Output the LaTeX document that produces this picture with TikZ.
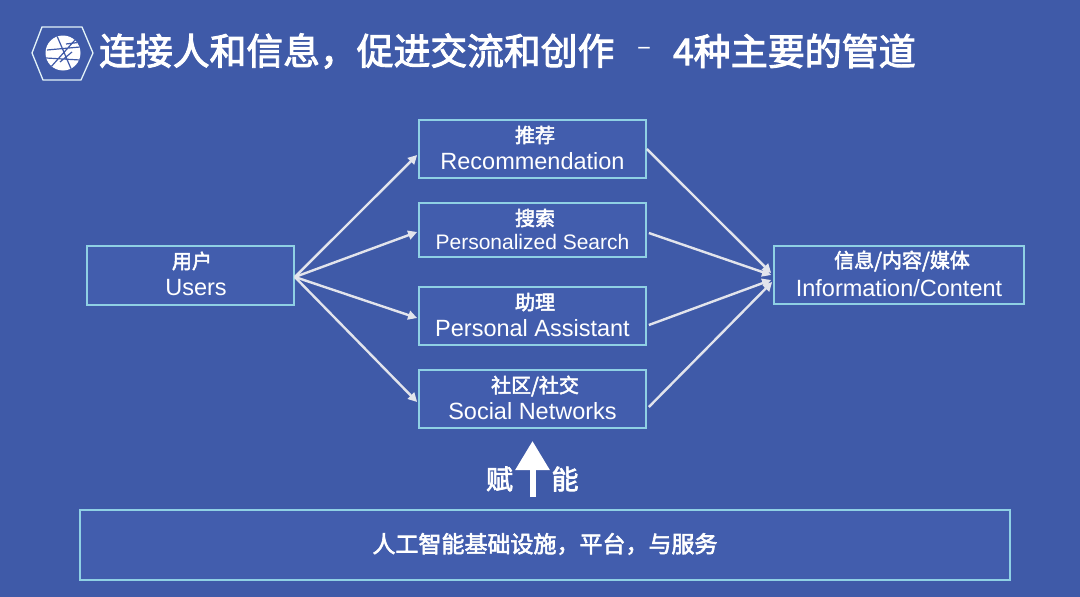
\documentclass[tikz,border=0pt]{standalone}
\usepackage{fontspec}
\setmainfont{Liberation Sans}
\newfontfamily\cjk{Noto Sans CJK SC}
\newfontfamily\cjkm{Noto Sans CJK SC}[FakeBold=2.6]
\usetikzlibrary{arrows.meta,calc}
\definecolor{bgblue}{HTML}{3F5AA8}
\definecolor{boxblue}{HTML}{425DAD}
\definecolor{edgeblue}{HTML}{8FD0E4}
\definecolor{linkgrey}{HTML}{E2E4EC}
\tikzset{
  x=1pt,y=-1pt,
  flowbox/.style={draw=edgeblue,fill=boxblue,line width=1.7pt,minimum width=#1,inner sep=0pt,text=white,anchor=center},
  link/.style={draw=linkgrey,line width=2.4pt,-{Triangle[length=9pt,width=9pt]},shorten >=0pt},
  lbl/.style={text=white,inner sep=0pt,anchor=center}
}
\newcommand{\zhl}[1]{{\fontsize{20}{22}\selectfont\cjkm #1}}
\newcommand{\enl}[1]{{\fontsize{23.5}{26}\selectfont #1}}
\newcommand{\fwc}{\char"FF0C\relax}
\begin{document}
\begin{tikzpicture}
\useasboundingbox (0,0) rectangle (1080,597);
\fill[bgblue] (0,0) rectangle (1080,597);
% logo
\draw[draw=white!75!edgeblue,line width=1.3pt,fill=bgblue] (32,53) -- (42,27) -- (82,27) -- (93,53) -- (81,80) -- (43,80) -- cycle;
\fill[white] (63,53) circle (17.5);
\begin{scope}
\clip (63,53) circle (17.5);
\draw[bgblue,line width=1.2pt] (47,50) -- (80,47) (57,36) -- (72,71) (75,40) -- (50,68) (46,58) -- (80,60) (66,44) -- (82,42) (60,62) -- (72,52);
\end{scope}
% title
\node[lbl,anchor=west] (title) at (99,51) {\fontsize{36.8}{40}\selectfont\cjkm 连接人和信息\fwc 促进交流和创作};
\node[lbl,anchor=west] (dash) at (637,51) {\fontsize{26}{30}\selectfont\cjk –};
\node[lbl,anchor=west] (title2) at (673,51) {\fontsize{37}{40}\selectfont\cjkm 4种主要的管道};
% boxes
\node[flowbox=207pt,minimum height=59pt] (users) at (190.5,275.5) {};
\node[flowbox=227pt,minimum height=58pt] (rec) at (532.5,149) {};
\node[flowbox=227pt,minimum height=54pt] (search) at (532.5,230) {};
\node[flowbox=227pt,minimum height=58pt] (assist) at (532.5,316) {};
\node[flowbox=227pt,minimum height=58pt] (social) at (532.5,399) {};
\node[flowbox=250pt,minimum height=58pt] (info) at (899,275) {};
\node[flowbox=930pt,minimum height=70pt] (base) at (545,545) {};
% box texts
\node[lbl] (t1a) at (192,261) {\zhl{用户}};
\node[lbl] (t1b) at (196,288) {\enl{Users}};
\node[lbl] (t2a) at (535,135) {\zhl{推荐}};
\node[lbl] (t2b) at (532.5,161) {\enl{Recommendation}};
\node[lbl] (t3a) at (535,218) {\zhl{搜索}};
\node[lbl] (t3b) at (532.5,242) {\fontsize{21}{23}\selectfont Personalized Search};
\node[lbl] (t4a) at (535,302) {\zhl{助理}};
\node[lbl] (t4b) at (532.5,328) {\enl{Personal Assistant}};
\node[lbl] (t5a) at (535,386) {\zhl{社区/社交}};
\node[lbl] (t5b) at (532.5,411) {\enl{Social Networks}};
\node[lbl] (t6a) at (902,261) {\zhl{信息/内容/媒体}};
\node[lbl] (t6b) at (899,288) {\enl{Information/Content}};
\node[lbl] (t7) at (545,544) {\fontsize{23}{25}\selectfont\cjkm 人工智能基础设施\fwc 平台\fwc 与服务};
\node[lbl] (fu) at (499.5,479) {\fontsize{27}{29}\selectfont\cjkm 赋};
\node[lbl] (neng) at (565,479) {\fontsize{27}{29}\selectfont\cjkm 能};
% connectors
\coordinate (us) at ($(users.east)+(0,1.5)$);
\draw[link] (us) -- ($(rec.west)+(-1,6)$);
\draw[link] (us) -- ($(search.west)+(-1,2)$);
\draw[link] (us) -- ($(assist.west)+(-1,2)$);
\draw[link] (us) -- ($(social.west)+(-1,3)$);
\draw[link] ($(rec.east)+(0,0)$) -- ($(info.west)+(-2,-2)$);
\draw[link] ($(search.east)+(2,3)$) -- ($(info.west)+(-2,0)$);
\draw[link] ($(assist.east)+(2,9)$) -- ($(info.west)+(-2,5)$);
\draw[link] ($(social.east)+(2,8)$) -- ($(info.west)+(-1,7)$);
% empower arrow
\coordinate (upA) at (532.5,497);
\coordinate (upB) at (532.5,441);
\draw[white,line width=6pt,-{Triangle[length=29pt,width=33pt]}] (upA) -- (upB);
\end{tikzpicture}
\end{document}
